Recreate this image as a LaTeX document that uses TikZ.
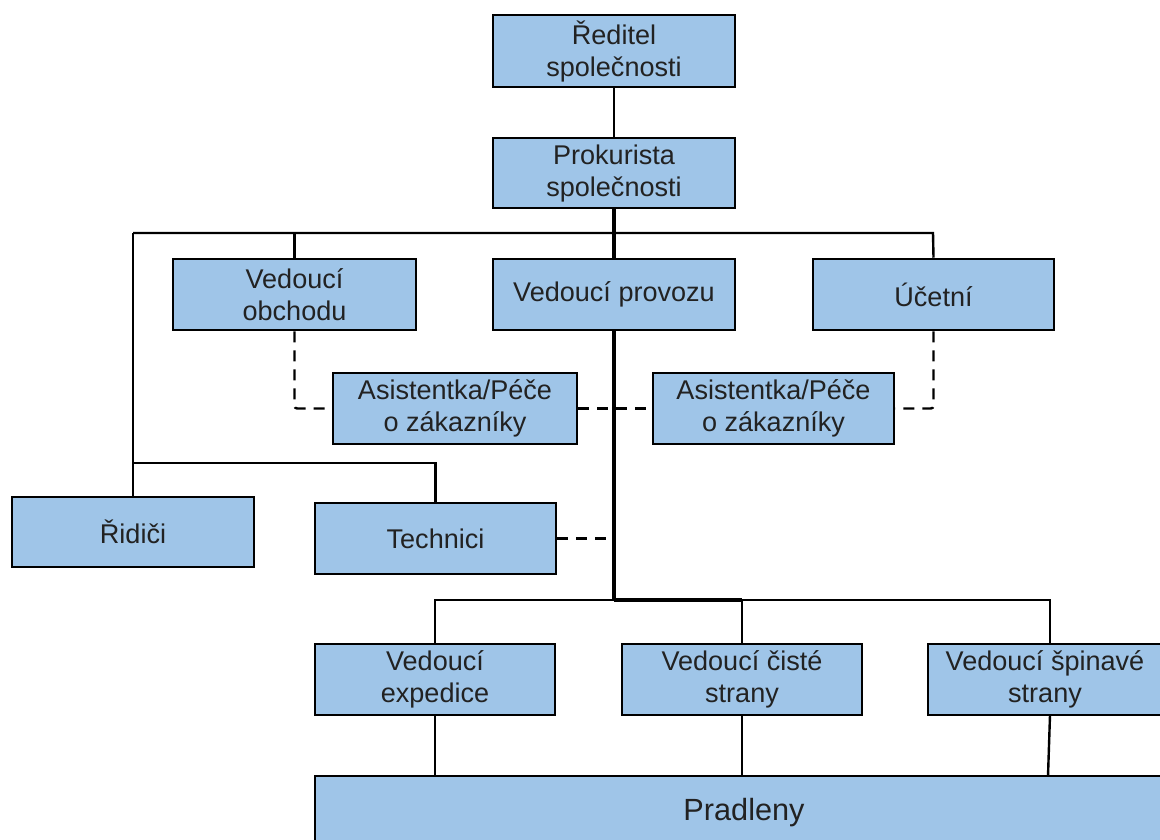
\documentclass[tikz,border=0pt]{standalone}
\usepackage{fontspec}
\setmainfont{Liberation Sans}
\definecolor{boxfill}{HTML}{9FC5E8}
\definecolor{txt}{HTML}{222222}
\begin{document}
\begin{tikzpicture}[x=0.75pt,y=-0.75pt,
  box/.style={draw=black, fill=boxfill, line width=1.9pt, inner sep=0pt,
    align=center, text=txt, font=\fontsize{20.3}{24}\selectfont},
  link/.style={line width=1.8pt, line join=miter},
  mainlink/.style={line width=2.8pt},
  dotted link/.style={line width=1.8pt, dash pattern=on 8.25pt off 6pt, rounded corners=2pt}]
\useasboundingbox (0,0) rectangle (1160,839);
\clip (0,0) rectangle (1160,839);
% box helper: name, x1, y1, x2, y2, label
\newcommand{\orgbox}[6]{%
  \node[box, minimum width={(#4-#2)*0.75pt}, minimum height={(#5-#3)*0.75pt}]
    (#1) at ({(#2+#4)/2},{(#3+#5)/2}) {#6};}
\orgbox{dir}{493}{15}{735}{87}{Ředitel\\společnosti}
\orgbox{prok}{493}{138}{735}{208}{Prokurista\\společnosti}
\orgbox{obch}{173}{259}{416}{330}{Vedoucí\\obchodu}
\orgbox{prov}{493}{259}{735}{330}{Vedoucí provozu}
\orgbox{ucet}{813}{259}{1054}{330}{Účetní}
\orgbox{asL}{333}{373}{577}{444}{Asistentka/Péče\\o zákazníky}
\orgbox{asR}{653}{373}{894}{444}{Asistentka/Péče\\o zákazníky}
\orgbox{rid}{12}{497}{254}{567}{Řidiči}
\orgbox{tech}{315}{503}{556}{574}{Technici}
\orgbox{exp}{315}{644}{555}{715}{Vedoucí\\expedice}
\orgbox{cis}{622}{644}{862}{715}{Vedoucí čisté\\strany}
\orgbox{spin}{928}{644}{1162}{715}{Vedoucí špinavé\\strany}
\node[box, minimum width={(1173-315)*0.75pt}, minimum height={(850-776)*0.75pt},
  font=\fontsize{23}{27}\selectfont] (prad) at ({(315+1173)/2},{(776+850)/2}) {Pradleny};

% junction points
\coordinate (topbus) at (614,233);
\coordinate (leftbus) at (133,233);
\coordinate (rightbus) at (933,233);
\coordinate (techbus) at (133,463);
\coordinate (lowbus) at (614,600);
\coordinate (spinA) at (1050,715);
\coordinate (spinB) at (1048,776);

% solid connectors
\draw[link] (dir.south) -- (prok.north);
\draw[mainlink] (prok.south) -- (prov.north);
\draw[link] (leftbus) -- (rightbus) -- (ucet.north);
\draw[link] (obch.north) -- (obch.north |- topbus);
\draw[link] (leftbus) -- (rid.north);
\draw[link] (techbus) -- (techbus -| tech.north) -- (tech.north);
\draw[mainlink] (prov.south) -- (lowbus);
\draw[link] (exp.north) -- (exp.north |- lowbus) -- (lowbus -| spinA) -- (spinA |- spin.north);
\draw[line width=2.6pt] (lowbus) -- (lowbus -| cis.north);
\draw[link] (cis.north) -- (cis.north |- lowbus);
\draw[link] (exp.south) -- (exp.south |- prad.north);
\draw[link] (cis.south) -- (cis.south |- prad.north);
\draw[link] (spinA) -- (spinB);

% dashed connectors
\draw[dotted link] (obch.south) -- (obch.south |- asL.west) -- (asL.west);
\draw[dotted link] (asL.east) -- (asR.west);
\draw[dotted link] (ucet.south) -- (ucet.south |- asR.east) -- (asR.east);
\draw[dotted link] (tech.east) -- (tech.east -| lowbus);
\end{tikzpicture}
\end{document}
